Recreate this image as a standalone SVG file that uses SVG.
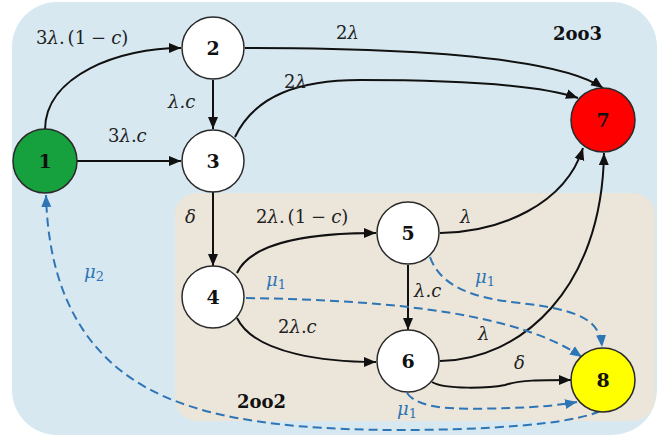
<svg xmlns="http://www.w3.org/2000/svg" width="670" height="441" viewBox="0 0 670 441">
<style>
.node{stroke:#2a2a2a;stroke-width:1.5}
.nl{font-family:"DejaVu Serif","Liberation Serif",serif;font-weight:bold;font-size:19px;text-anchor:middle;fill:#111}
.lbl{font-family:"DejaVu Serif","Liberation Serif",serif;font-size:18px;fill:#222}
.blbl{font-family:"DejaVu Serif","Liberation Serif",serif;font-size:18px;fill:#2e75b6}
.i{font-style:italic}
.grp{font-family:"DejaVu Serif","Liberation Serif",serif;font-weight:bold;font-size:18px;fill:#111}
.e{fill:none;stroke:#111;stroke-width:2}
.d{fill:none;stroke:#2e75b6;stroke-width:2;stroke-dasharray:9 5}
</style>
<defs>
<marker id="ab" markerUnits="userSpaceOnUse" markerWidth="14" markerHeight="12" refX="12" refY="6" orient="auto">
<path d="M0,1 L12,6 L0,11 Z" fill="#111"/>
</marker>
<marker id="au" markerUnits="userSpaceOnUse" markerWidth="14" markerHeight="12" refX="12" refY="6" orient="auto">
<path d="M0,1 L12,6 L0,11 Z" fill="#2e75b6"/>
</marker>
</defs>
<rect x="0" y="0" width="670" height="441" fill="#ffffff"/>
<rect id="zone-2oo3" x="12" y="2" width="645" height="433" rx="45" fill="#d7e8f1"/>
<rect id="zone-2oo2" x="175" y="193" width="480" height="228" rx="22" fill="#ece6da"/>
<text class="grp" x="553" y="40">2oo3</text>
<text class="grp" x="237" y="408">2oo2</text>
<g id="connectors">
<path class="e" d="M45,130 C45,75 120,48 181,48" marker-end="url(#ab)"/>
<path class="e" d="M77,161 L181,161" marker-end="url(#ab)"/>
<path class="e" d="M213,80 L213,129" marker-end="url(#ab)"/>
<path class="e" d="M245,48 C420,48 560,58 603,88" marker-end="url(#ab)"/>
<path class="e" d="M235,137 C255,95 300,80 360,80 C460,80 540,85 578,98" marker-end="url(#ab)"/>
<path class="e" d="M213,192 L213,266" marker-end="url(#ab)"/>
<path class="e" d="M237,273 C252,240 320,233 376,233" marker-end="url(#ab)"/>
<path class="e" d="M237,318 C255,355 330,362 376,362" marker-end="url(#ab)"/>
<path class="e" d="M408,265 L408,330" marker-end="url(#ab)"/>
<path class="e" d="M440,233 C500,232 565,205 583,148" marker-end="url(#ab)"/>
<path class="e" d="M440,361 C520,360 602,290 604,153" marker-end="url(#ab)"/>
<path class="e" d="M432,382 C445,390 490,388 505,385 C520,380 540,380 571,380" marker-end="url(#ab)"/>
<path class="d" d="M246,298 C400,300 520,315 582,357" marker-end="url(#au)"/>
<path class="d" d="M430,257 C440,285 470,298 520,303 C580,310 600,320 602,347" marker-end="url(#au)"/>
<path class="d" d="M407,393 C420,412 470,409 510,408 C540,407 560,405 577,402" marker-end="url(#au)"/>
<path class="d" d="M600,411 C570,425 480,430 400,430 C250,430 170,410 120,370 C70,330 48,270 46,195" marker-end="url(#au)"/>
</g>
<g id="edge-labels">
<text class="lbl" x="36" y="44">3<tspan class="i">λ</tspan>.<tspan dx="3">(1</tspan><tspan dx="5">−</tspan><tspan class="i" dx="5">c</tspan>)</text>
<text class="lbl" x="108" y="142">3<tspan class="i">λ</tspan>.<tspan class="i">c</tspan></text>
<text class="lbl i" x="168" y="108">λ.c</text>
<text class="lbl" x="336" y="39">2<tspan class="i">λ</tspan></text>
<text class="lbl" x="284" y="88">2<tspan class="i">λ</tspan></text>
<text class="lbl i" x="185" y="223">δ</text>
<text class="lbl" x="256" y="223">2<tspan class="i">λ</tspan>.<tspan dx="3">(1</tspan><tspan dx="5">−</tspan><tspan class="i" dx="5">c</tspan>)</text>
<text class="lbl i" x="460" y="223">λ</text>
<text class="lbl i" x="414" y="297">λ.c</text>
<text class="lbl" x="278" y="333">2<tspan class="i">λ</tspan>.<tspan class="i">c</tspan></text>
<text class="lbl i" x="478" y="340">λ</text>
<text class="lbl i" x="514" y="369">δ</text>
<text class="blbl" x="266" y="286"><tspan class="i">μ</tspan><tspan font-size="13" dy="3">1</tspan></text>
<text class="blbl" x="475" y="283"><tspan class="i">μ</tspan><tspan font-size="13" dy="3">1</tspan></text>
<text class="blbl" x="397" y="415"><tspan class="i">μ</tspan><tspan font-size="13" dy="3">1</tspan></text>
<text class="blbl" x="84" y="278"><tspan class="i">μ</tspan><tspan font-size="13" dy="3">2</tspan></text>
</g>
<g id="node1"><circle class="node" cx="45" cy="161" r="32" fill="#17a03e"/><text class="nl" x="45" y="168">1</text></g>
<g id="node2"><circle class="node" cx="213" cy="48" r="31" fill="#ffffff"/><text class="nl" x="213" y="55">2</text></g>
<g id="node3"><circle class="node" cx="213" cy="161" r="31" fill="#ffffff"/><text class="nl" x="213" y="168">3</text></g>
<g id="node4"><circle class="node" cx="213" cy="297" r="31" fill="#ffffff"/><text class="nl" x="213" y="304">4</text></g>
<g id="node5"><circle class="node" cx="408" cy="233" r="31" fill="#ffffff"/><text class="nl" x="408" y="240">5</text></g>
<g id="node6"><circle class="node" cx="408" cy="361" r="31" fill="#ffffff"/><text class="nl" x="408" y="368">6</text></g>
<g id="node7"><circle class="node" cx="603" cy="120" r="32" fill="#ff0000" stroke="#7a0000"/><text class="nl" x="603" y="127">7</text></g>
<g id="node8"><circle class="node" cx="603" cy="380" r="32" fill="#ffff00"/><text class="nl" x="603" y="387">8</text></g>
</svg>
